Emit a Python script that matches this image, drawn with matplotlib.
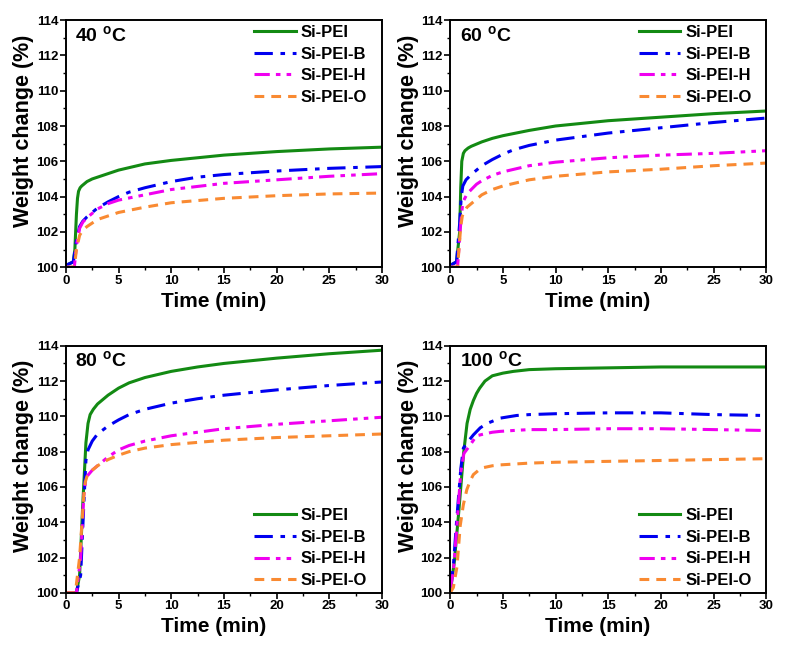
import matplotlib
matplotlib.use('Agg')
import matplotlib.pyplot as plt
from matplotlib.ticker import MultipleLocator

plt.rcParams['font.family'] = ['Liberation Sans', 'DejaVu Sans']
plt.rcParams['font.weight'] = 'bold'
plt.rcParams['mathtext.default'] = 'bf'

labels = ['Si-PEI', 'Si-PEI-B', 'Si-PEI-H', 'Si-PEI-O']
colors = ['#138a13', '#0000f0', '#f000f0', '#f98a32']
styles = ['-', (0, (6, 2.5, 1.5, 2.5)), (0, (5, 2, 1.5, 2, 1.5, 2)), (0, (3.2, 2.3))]

temps = ['40', '60', '80', '100']
legend_loc = ['upper right', 'upper right', 'lower right', 'lower right']
legend_anchor = [(0.975, 1.008), (0.975, 1.008), (0.975, -0.008), (0.975, -0.008)]

# 40 C
t40_pei = [0, 0.7, 0.85, 1.0, 1.1, 1.2, 1.35, 1.5, 2, 2.5, 3, 4, 5, 7.5, 10, 15, 20, 25, 30]
w40_pei = [100.1, 100.3, 101.0, 103.0, 103.9, 104.3, 104.5, 104.6, 104.85, 105.0, 105.1, 105.3, 105.5, 105.85, 106.05, 106.35, 106.55, 106.7, 106.8]
t40_b = [0, 0.7, 1.0, 1.3, 1.6, 2, 2.5, 3, 4, 5, 6, 7.5, 10, 12.5, 15, 20, 25, 30]
w40_b = [100.1, 100.3, 101.5, 102.3, 102.6, 102.85, 103.1, 103.35, 103.7, 104.0, 104.25, 104.5, 104.85, 105.1, 105.25, 105.45, 105.6, 105.7]
t40_h = [0, 0.8, 1.0, 1.3, 1.6, 2, 2.5, 3, 4, 5, 7.5, 10, 15, 20, 25, 30]
w40_h = [100, 100, 101.2, 102.2, 102.55, 102.8, 103.05, 103.3, 103.6, 103.8, 104.1, 104.4, 104.75, 104.95, 105.15, 105.3]
t40_o = [0, 0.8, 1.0, 1.3, 1.6, 2, 2.5, 3, 4, 5, 7.5, 10, 15, 20, 25, 30]
w40_o = [100, 100, 101.0, 101.8, 102.1, 102.3, 102.5, 102.7, 102.9, 103.1, 103.4, 103.65, 103.9, 104.05, 104.15, 104.2]

# 60 C
t60_pei = [0, 0.6, 0.9, 1.0, 1.1, 1.25, 1.4, 1.7, 2, 3, 4, 5, 7.5, 10, 15, 20, 25, 30]
w60_pei = [100.1, 100.3, 102.0, 104.5, 106.0, 106.45, 106.6, 106.75, 106.85, 107.1, 107.3, 107.45, 107.75, 108.0, 108.3, 108.5, 108.7, 108.85]
t60_b = [0, 0.6, 0.9, 1.05, 1.2, 1.5, 2, 2.5, 3, 4, 5, 6, 7.5, 10, 15, 20, 25, 30]
w60_b = [100.1, 100.3, 102.5, 104.0, 104.6, 104.95, 105.25, 105.5, 105.75, 106.1, 106.4, 106.65, 106.9, 107.2, 107.6, 107.9, 108.2, 108.45]
t60_h = [0, 0.7, 1.0, 1.15, 1.3, 1.6, 2, 2.5, 3, 4, 5, 7.5, 10, 15, 20, 25, 30]
w60_h = [100, 100, 102.5, 103.4, 103.8, 104.15, 104.4, 104.7, 104.9, 105.2, 105.4, 105.75, 105.95, 106.2, 106.35, 106.45, 106.6]
t60_o = [0, 0.7, 1.0, 1.15, 1.3, 1.6, 2, 2.5, 3, 4, 5, 7.5, 10, 15, 20, 25, 30]
w60_o = [100, 100, 102.3, 102.9, 103.1, 103.4, 103.6, 103.85, 104.1, 104.4, 104.6, 104.95, 105.15, 105.4, 105.55, 105.75, 105.9]

# 80 C
t80_pei = [0, 1.0, 1.3, 1.6, 1.9, 2.1, 2.3, 2.6, 3, 4, 5, 6, 7.5, 10, 12.5, 15, 20, 25, 30]
w80_pei = [100, 100, 101.0, 105.0, 108.5, 109.6, 110.1, 110.4, 110.7, 111.2, 111.6, 111.9, 112.2, 112.55, 112.8, 113.0, 113.3, 113.55, 113.75]
t80_b = [0, 1.0, 1.4, 1.7, 1.9, 2.1, 2.5, 3, 4, 5, 6, 7.5, 10, 12.5, 15, 20, 25, 30]
w80_b = [100, 100, 101.0, 105.0, 107.5, 108.1, 108.6, 109.0, 109.45, 109.8, 110.1, 110.4, 110.75, 111.0, 111.2, 111.5, 111.75, 111.95]
t80_h = [0, 1.0, 1.4, 1.7, 1.85, 2.0, 2.5, 3, 4, 5, 6, 7.5, 10, 15, 20, 25, 30]
w80_h = [100, 100, 102.0, 105.5, 106.3, 106.6, 106.95, 107.2, 107.7, 108.1, 108.35, 108.6, 108.9, 109.3, 109.55, 109.75, 109.95]
t80_o = [0, 0.9, 1.3, 1.7, 1.85, 2.0, 2.5, 3, 4, 5, 6, 7.5, 10, 15, 20, 25, 30]
w80_o = [100, 100, 102.0, 105.5, 106.3, 106.6, 106.95, 107.2, 107.55, 107.8, 108.0, 108.2, 108.4, 108.65, 108.8, 108.9, 109.0]

# 100 C
t100_pei = [0, 0.4, 0.8, 1.27, 1.6, 1.9, 2.2, 2.5, 2.8, 3.3, 4, 5, 6, 7.5, 10, 15, 20, 25, 30]
w100_pei = [100, 101.8, 104.5, 107.9, 109.6, 110.4, 110.9, 111.3, 111.6, 112.0, 112.3, 112.45, 112.55, 112.65, 112.7, 112.75, 112.8, 112.8, 112.8]
t100_b = [0, 0.3, 0.6, 1.0, 1.25, 1.6, 2.2, 2.85, 3.5, 4.75, 6.3, 7.5, 10, 15, 20, 25, 30]
w100_b = [100.2, 101.5, 104.0, 107.0, 108.2, 108.5, 108.95, 109.35, 109.6, 109.9, 110.05, 110.1, 110.15, 110.2, 110.2, 110.1, 110.05]
t100_h = [0, 0.3, 0.6, 1.0, 1.3, 1.8, 2.5, 3.2, 4, 4.75, 6, 7.5, 10, 15, 20, 25, 30]
w100_h = [100.2, 101.2, 103.5, 106.8, 107.9, 108.3, 108.9, 109.0, 109.1, 109.15, 109.2, 109.25, 109.25, 109.3, 109.3, 109.25, 109.2]
t100_o = [0, 0.3, 0.65, 0.95, 1.25, 1.58, 1.9, 2.2, 2.7, 3.2, 4, 4.75, 7.5, 10, 15, 20, 25, 30]
w100_o = [100, 100.3, 101.5, 103.8, 105.0, 105.85, 106.35, 106.7, 106.95, 107.1, 107.2, 107.25, 107.35, 107.4, 107.45, 107.5, 107.55, 107.6]

panels = [
    [(t40_pei, w40_pei), (t40_b, w40_b), (t40_h, w40_h), (t40_o, w40_o)],
    [(t60_pei, w60_pei), (t60_b, w60_b), (t60_h, w60_h), (t60_o, w60_o)],
    [(t80_pei, w80_pei), (t80_b, w80_b), (t80_h, w80_h), (t80_o, w80_o)],
    [(t100_pei, w100_pei), (t100_b, w100_b), (t100_h, w100_h), (t100_o, w100_o)],
]

fig = plt.figure(figsize=(7.94, 6.5), dpi=100)
boxes = [
    [0.083, 0.589, 0.398, 0.380],
    [0.567, 0.589, 0.398, 0.380],
    [0.083, 0.088, 0.398, 0.380],
    [0.567, 0.088, 0.398, 0.380],
]

for i, box in enumerate(boxes):
    ax = fig.add_axes(box)
    for (t, w), lab, c, ls in zip(panels[i], labels, colors, styles):
        ax.plot(t, w, color=c, linestyle=ls, lw=2.2, label=lab)
    ax.set_xlim(0, 30)
    ax.set_ylim(100, 114)
    ax.xaxis.set_major_locator(MultipleLocator(5))
    ax.xaxis.set_minor_locator(MultipleLocator(2.5))
    ax.yaxis.set_major_locator(MultipleLocator(2))
    ax.yaxis.set_minor_locator(MultipleLocator(1))
    ax.tick_params(which='major', direction='out', length=4, width=1.2, labelsize=9.5, pad=1.5)
    ax.tick_params(which='minor', direction='out', length=2, width=1)
    for lbl in ax.get_xticklabels() + ax.get_yticklabels():
        lbl.set_fontweight('bold')
    for sp in ax.spines.values():
        sp.set_linewidth(1.4)
    ax.set_xlabel('Time (min)', fontsize=15, fontweight='bold')
    ax.set_ylabel('Weight change (%)', fontsize=15.5, fontweight='bold')
    ax.xaxis.set_label_coords(0.468, -0.1)
    ax.yaxis.set_label_coords(-0.1, 0.553)
    ax.text(0.03, 0.98, temps[i] + r' $^\mathregular{o}$C', transform=ax.transAxes,
            fontsize=14, fontweight='bold', va='top', ha='left')
    leg = ax.legend(loc=legend_loc[i], bbox_to_anchor=legend_anchor[i], frameon=False,
                    fontsize=12, handlelength=2.5, handletextpad=0.3, labelspacing=0.4,
                    borderaxespad=0)
    for txt in leg.get_texts():
        txt.set_fontweight('bold')

fig.savefig('out.png', dpi=100)
